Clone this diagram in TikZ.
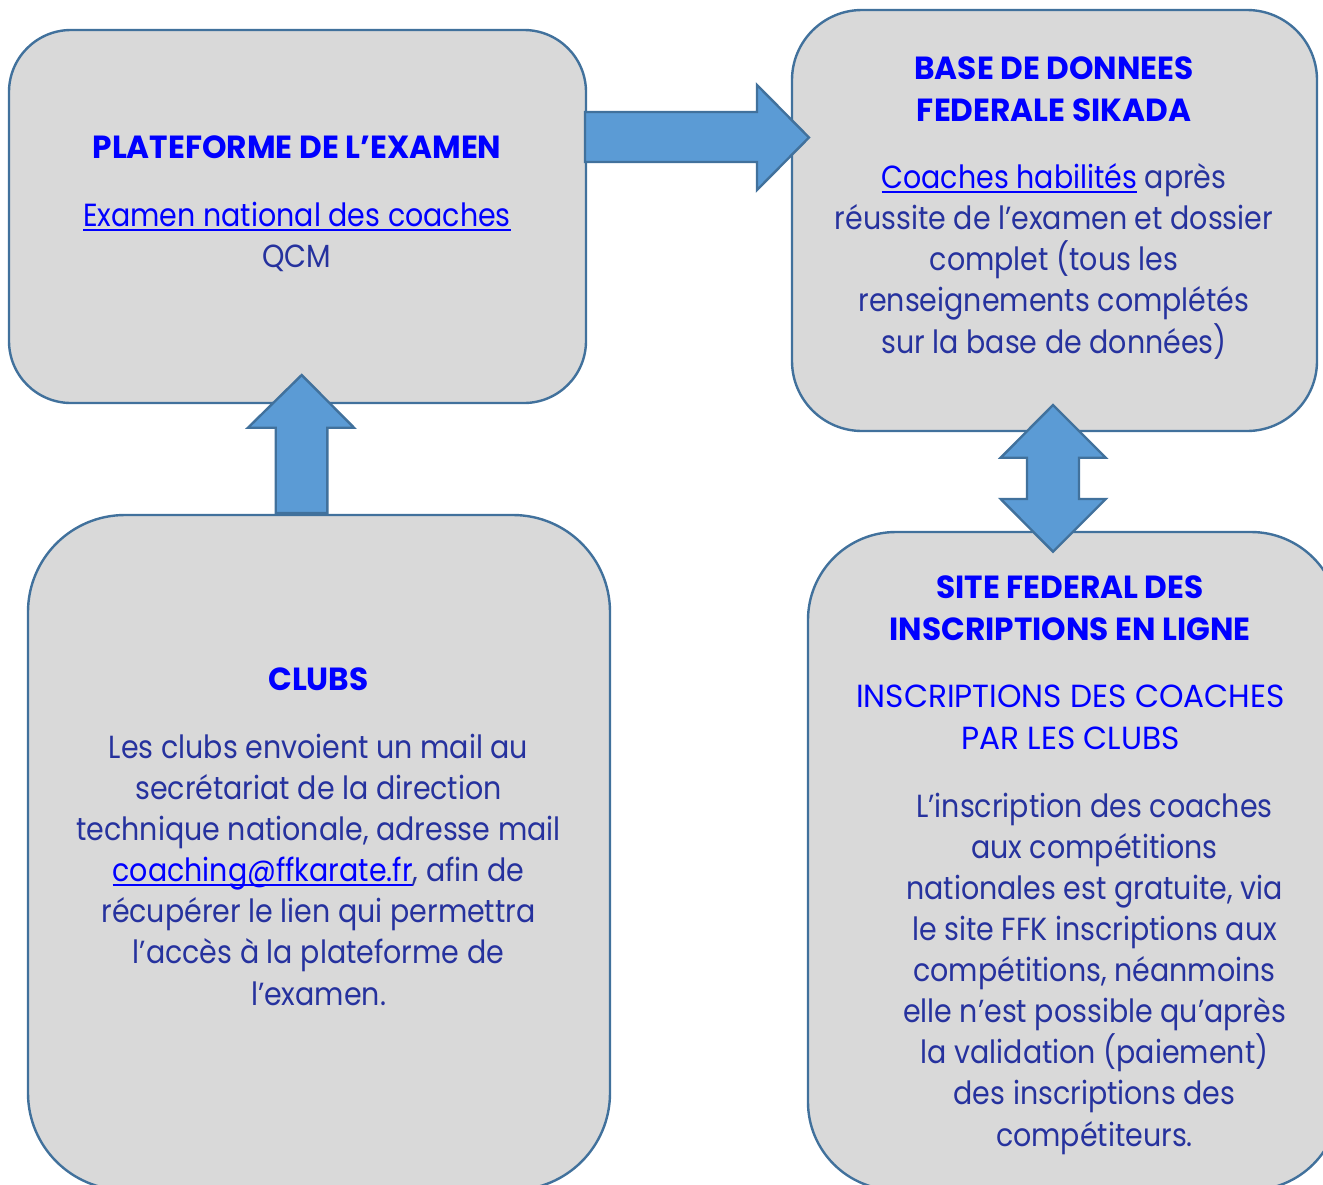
\documentclass[tikz,border=0pt]{standalone}
\usepackage{fontspec}
\setmainfont{Poppins}
\newfontfamily\bodyfont[FakeStretch=0.89]{Poppins}
\newfontfamily\headfont[FakeStretch=0.975]{Poppins}
\usetikzlibrary{calc}
\definecolor{boxfill}{HTML}{D9D9D9}
\definecolor{boxline}{HTML}{41719C}
\definecolor{arrowfill}{HTML}{5B9BD5}
\definecolor{titleblue}{HTML}{0000FF}
\definecolor{bodyblue}{RGB}{38,50,158}
\newcommand\linkul[1]{\setbox0\hbox{#1}\rlap{\rule[-2.4pt]{\wd0}{0.85pt}}\box0}
\begin{document}
\begin{tikzpicture}[x=0.5pt,y=-0.5pt,
  box/.style={draw=boxline, fill=boxfill, line width=1.2pt, inner sep=0pt},
  blockarrow/.style={draw=boxline, fill=arrowfill, line width=1.2pt, line join=miter},
  ttl/.style={anchor=base, inner sep=0pt, text=titleblue, font=\fontsize{16}{20}\selectfont\headfont\bfseries},
  txt/.style={anchor=base, inner sep=0pt, text=bodyblue, font=\fontsize{16}{20}\selectfont\bodyfont},
  lnk/.style={anchor=base, inner sep=0pt, text=titleblue, font=\fontsize{16}{20}\selectfont\bodyfont},
  caps/.style={anchor=base, inner sep=0pt, text=titleblue, font=\fontsize{16}{20}\selectfont\headfont}]
\useasboundingbox (0,0) rectangle (1323,1184);
\clip (0,0) rectangle (1323,1184);
% boxes
\node[box, minimum width=288.5pt, minimum height=186.5pt, rounded corners=31pt] (plat) at (297.5,216.5) {};
\node[box, minimum width=262.5pt, minimum height=210.5pt, rounded corners=35pt] (base) at (1054.5,220.5) {};
\node[box, minimum width=291pt, minimum height=337.5pt, rounded corners=48.5pt] (clubs) at (319,852.5) {};
\node[box, minimum width=265.5pt, minimum height=329pt, rounded corners=44pt] (site) at (1073.5,861) {};
% block arrows
\draw[blockarrow] (585,112) -- (757,112) -- (757,85) -- (809,137.5) -- (757,190) -- (757,162) -- (585,162) -- cycle;
\draw[blockarrow] (275.7,513) -- (275.7,427.7) -- (248,427.7) -- (301.7,375) -- (354,427.7) -- (327.3,427.7) -- (327.3,513) -- cycle;
\draw[blockarrow] (1053,405) -- (1105.7,457.7) -- (1079,457.7) -- (1079,499) -- (1105.7,499) -- (1053,551.7) -- (1000.7,499) -- (1027,499) -- (1027,457.7) -- (1000.7,457.7) -- cycle;
% box 1 text
\node[ttl] (p1) at (297,158) {PLATEFORME DE L’EXAMEN};
\node[lnk] (p2) at (297,226) {\linkul{Examen national des coaches}};
\node[txt] (p3) at (297,267) {QCM};
% box 2 text
\node[ttl] (b1) at (1054,79) {BASE DE DONNEES};
\node[ttl] (b2) at (1054,121) {FEDERALE SIKADA};
\node[txt] (b3) at (1054,188) {\textcolor{titleblue}{\linkul{Coaches habilités}} après};
\node[txt] (b4) at (1054,229) {réussite de l’examen et dossier};
\node[txt] (b5) at (1054,270) {complet (tous les};
\node[txt] (b6) at (1054,311) {renseignements complétés};
\node[txt] (b7) at (1054,353) {sur la base de données)};
% box 3 text
\node[ttl] (c1) at (318.5,690) {CLUBS};
\node[txt] (c2) at (318.5,758) {Les clubs envoient un mail au};
\node[txt] (c3) at (318.5,799) {secrétariat de la direction};
\node[txt] (c4) at (318.5,840) {technique nationale, adresse mail};
\node[txt] (c5) at (318.5,881) {\textcolor{titleblue}{\linkul{coaching@ffkarate.fr}}, afin de};
\node[txt] (c6) at (318.5,922) {récupérer le lien qui permettra};
\node[txt] (c7) at (318.5,963) {l’accès à la plateforme de};
\node[txt] (c8) at (318.5,1005) {l’examen.};
% box 4 text
\node[ttl] (s1) at (1070,598) {SITE FEDERAL DES};
\node[ttl] (s2) at (1070,640) {INSCRIPTIONS EN LIGNE};
\node[caps] (s3) at (1070.5,707) {INSCRIPTIONS DES COACHES};
\node[caps] (s4) at (1070.5,749) {PAR LES CLUBS};
\node[txt] (s5) at (1094.5,817) {L’inscription des coaches};
\node[txt] (s6) at (1094.5,858) {aux compétitions};
\node[txt] (s7) at (1094.5,899) {nationales est gratuite, via};
\node[txt] (s8) at (1094.5,940) {le site FFK inscriptions aux};
\node[txt] (s9) at (1094.5,981) {compétitions, néanmoins};
\node[txt] (s10) at (1094.5,1022) {elle n’est possible qu’après};
\node[txt] (s11) at (1094.5,1063) {la validation (paiement)};
\node[txt] (s12) at (1094.5,1104) {des inscriptions des};
\node[txt] (s13) at (1094.5,1146) {compétiteurs.};
\end{tikzpicture}
\end{document}
